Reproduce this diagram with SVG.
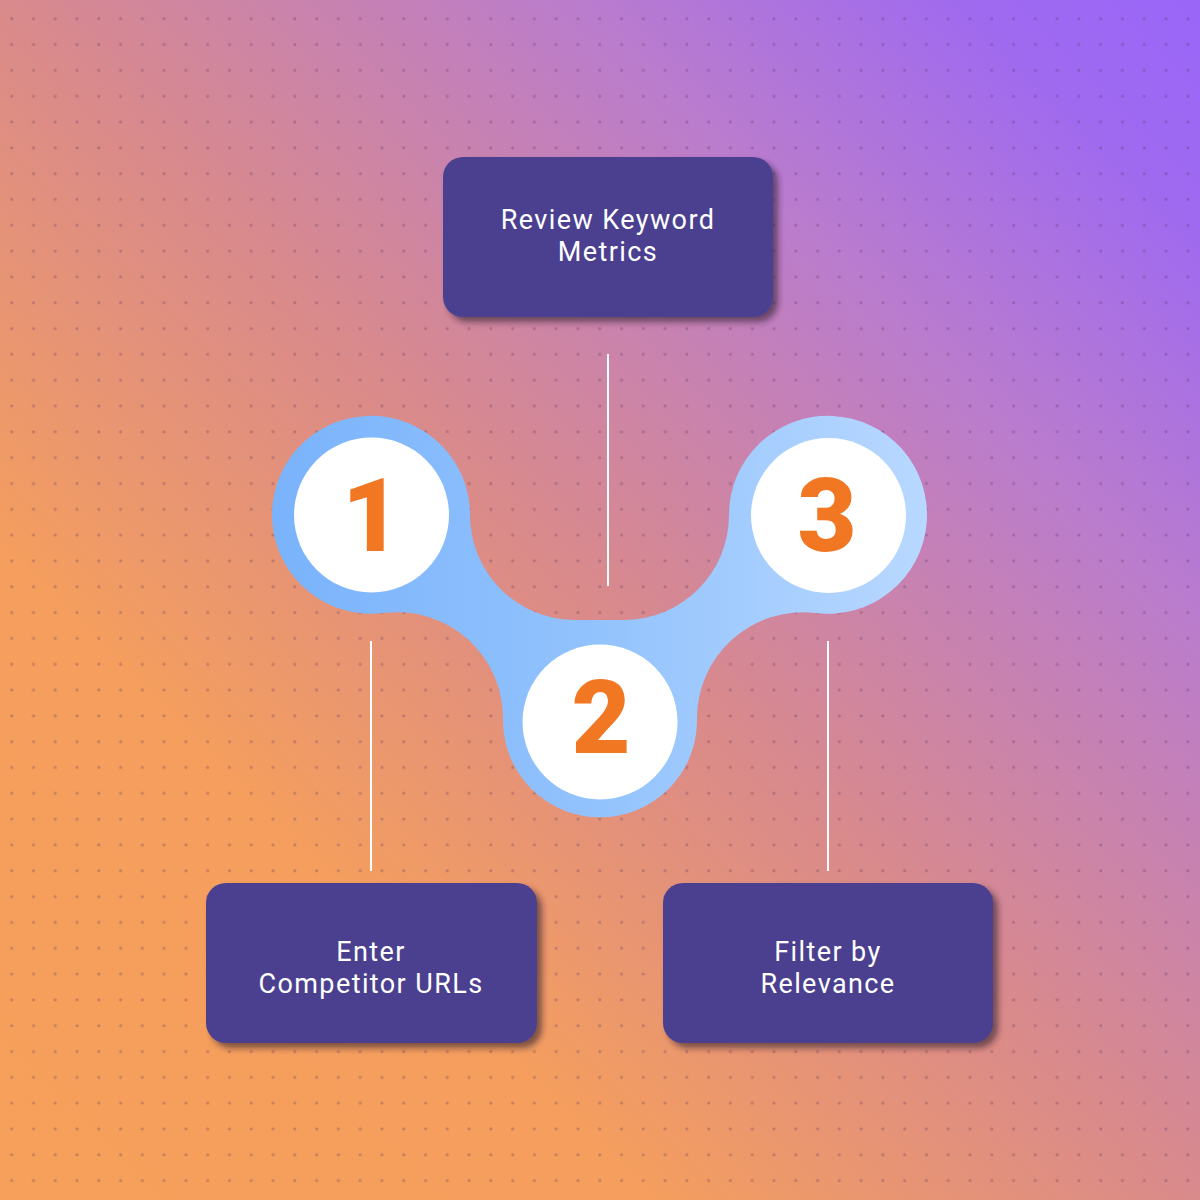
<svg xmlns="http://www.w3.org/2000/svg" width="1200" height="1200" viewBox="0 0 1200 1200">
  <defs>
    <linearGradient id="bg" gradientUnits="userSpaceOnUse" x1="0" y1="1200" x2="1200" y2="0">
      <stop offset="0" stop-color="#f7a05b"/>
      <stop offset="0.27" stop-color="#f59e5e"/>
      <stop offset="0.5" stop-color="#d98a8b"/>
      <stop offset="0.74" stop-color="#ba7ccd"/>
      <stop offset="0.9" stop-color="#a06aef"/>
      <stop offset="1" stop-color="#9966f8"/>
    </linearGradient>
    <pattern id="dots" patternUnits="userSpaceOnUse" x="0" y="0" width="21.78" height="25.82">
      <circle cx="11.7" cy="18.7" r="1.6" fill="#4a2f5a" fill-opacity="0.28"/>
    </pattern>
    <linearGradient id="blobGrad" gradientUnits="userSpaceOnUse" x1="273" y1="0" x2="927" y2="0">
      <stop offset="0" stop-color="#7ab3fc"/>
      <stop offset="0.5" stop-color="#93c3fd"/>
      <stop offset="1" stop-color="#b8d8ff"/>
    </linearGradient>
    <filter id="shadow" x="-10%" y="-10%" width="125%" height="130%">
      <feDropShadow dx="5" dy="5" stdDeviation="3" flood-color="#2a1a2a" flood-opacity="0.6"/>
    </filter>
  </defs>
  <style>
    .box { fill: #4b4190; filter: url(#shadow); }
    .label { font-family: Roboto, "Liberation Sans", sans-serif; font-size: 27px; font-weight: 400; letter-spacing: 1.4px; fill: #ffffff; text-anchor: middle; }
    .conn { stroke: #ffffff; stroke-width: 2; fill: none; }
    .disc { fill: #ffffff; }
    .num { font-family: Roboto, "Liberation Sans", sans-serif; font-size: 102px; font-weight: 900; fill: #f27722; text-anchor: middle; }
  </style>

  <rect x="0" y="0" width="1200" height="1200" fill="url(#bg)"/>
  <rect x="0" y="0" width="1200" height="1200" fill="url(#dots)"/>

  <g id="connectors">
    <line class="conn" x1="608" y1="354" x2="608" y2="586"/>
    <line class="conn" x1="371" y1="641" x2="371" y2="871"/>
    <line class="conn" x1="828" y1="641" x2="828" y2="871"/>
  </g>

  <g id="step-track">
    <path fill="url(#blobGrad)" d="M 470 515 A 99 99 0 1 0 383.6 613 A 106 106 0 0 1 503 720.3 A 97 97 0 1 0 697 720.3 A 106 106 0 0 1 815.4 613 A 99 99 0 1 0 729 515 A 105 105 0 0 1 624 620 L 575 620 A 105 105 0 0 1 470 515 Z"/>
  </g>

  <g id="step-1">
    <circle class="disc" cx="371.5" cy="515" r="77.5"/>
    <text class="num" x="371.5" y="551">1</text>
  </g>
  <g id="step-2">
    <circle class="disc" cx="600" cy="722" r="77.5"/>
    <text class="num" x="601" y="753">2</text>
  </g>
  <g id="step-3">
    <circle class="disc" cx="828.5" cy="515.5" r="77.5"/>
    <text class="num" x="827" y="551">3</text>
  </g>

  <g id="node-review-keyword-metrics">
    <rect class="box" x="443" y="157" width="330" height="160" rx="20"/>
    <text class="label"><tspan x="608" y="229">Review Keyword</tspan><tspan x="608" y="261">Metrics</tspan></text>
  </g>

  <g id="node-enter-competitor-urls">
    <rect class="box" x="206" y="883" width="331" height="160" rx="20"/>
    <text class="label"><tspan x="371" y="961">Enter</tspan><tspan x="371" y="993">Competitor URLs</tspan></text>
  </g>

  <g id="node-filter-by-relevance">
    <rect class="box" x="663" y="883" width="330" height="160" rx="20"/>
    <text class="label"><tspan x="828" y="961">Filter by</tspan><tspan x="828" y="993">Relevance</tspan></text>
  </g>
</svg>
